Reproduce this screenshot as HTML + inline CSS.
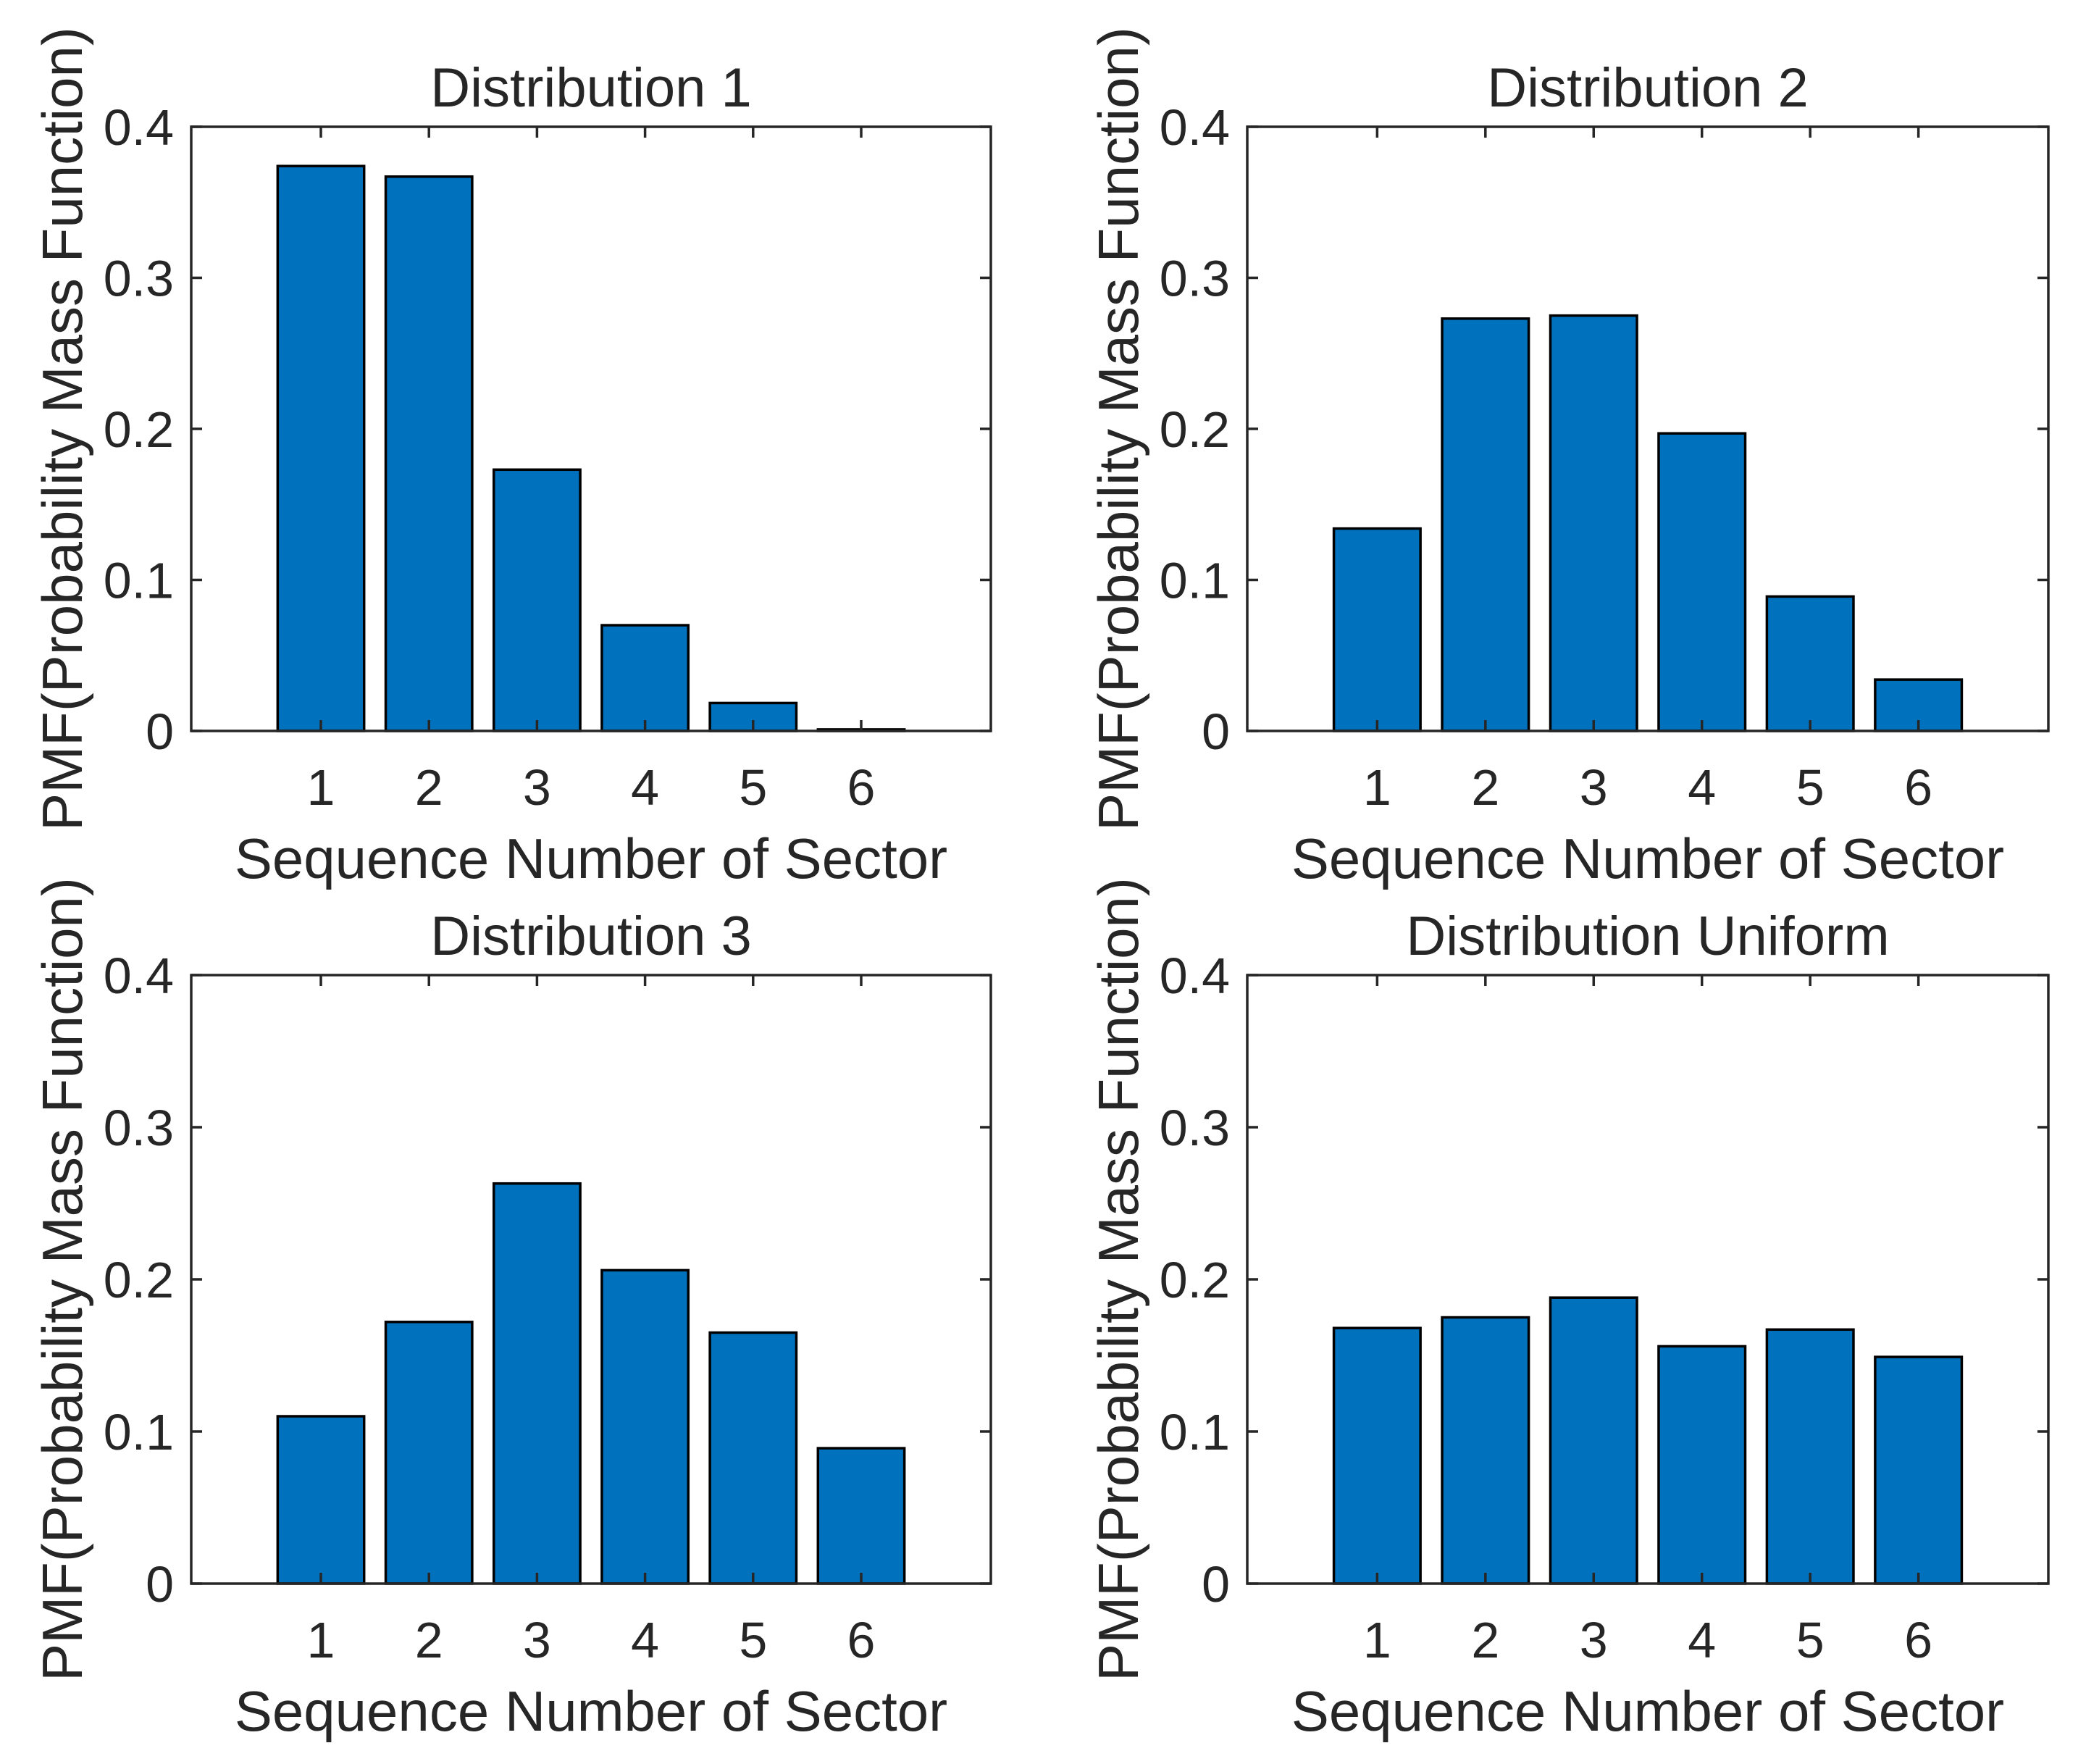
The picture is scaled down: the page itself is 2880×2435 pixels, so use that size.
<!DOCTYPE html>
<html><head><meta charset="utf-8"><style>
html,body{margin:0;padding:0;background:#fff;}
svg{display:block;}
text{font-family:"Liberation Sans",Arial,sans-serif;fill:#262626;}
</style></head>
<body>
<svg id="fig" width="2880" height="2435" viewBox="0 0 2880 2435" xmlns="http://www.w3.org/2000/svg"></svg>
<script>
const categories = [1, 2, 3, 4, 5, 6];
const titles = ["Distribution 1", "Distribution 2", "Distribution 3", "Distribution Uniform"];
const dist1 = [0.374, 0.367, 0.173, 0.070, 0.0185, 0.001];
const dist2 = [0.134, 0.273, 0.275, 0.197, 0.089, 0.034];
const dist3 = [0.110, 0.172, 0.263, 0.206, 0.165, 0.089];
const distUniform = [0.168, 0.175, 0.188, 0.156, 0.167, 0.149];
const yTicks = [0, 0.1, 0.2, 0.3, 0.4];
const yTickLabels = ["0", "0.1", "0.2", "0.3", "0.4"];

const NS = "http://www.w3.org/2000/svg";
const svg = document.getElementById("fig");
function mk(tag, attrs, parent) {
  const e = document.createElementNS(NS, tag);
  for (const k in attrs) e.setAttribute(k, attrs[k]);
  (parent || svg).appendChild(e);
  return e;
}
const panels = [
  {x0: 264, x1: 1368, y0: 175, y1: 1009, data: dist1},
  {x0: 1722, x1: 2828, y0: 175, y1: 1009, data: dist2},
  {x0: 264, x1: 1368, y0: 1346, y1: 2186, data: dist3},
  {x0: 1722, x1: 2828, y0: 1346, y1: 2186, data: distUniform}
];
const xMin = -0.2, xMax = 7.2, yMin = 0, yMax = 0.4, barW = 0.8, tickLen = 15;
panels.forEach((p, i) => {
  const g = mk("g", {});
  
  
  const xs = v => p.x0 + (v - xMin) / (xMax - xMin) * (p.x1 - p.x0);
  const ys = v => p.y1 - (v - yMin) / (yMax - yMin) * (p.y1 - p.y0);
  p.data.forEach((v, j) => {
    const c = categories[j];
    const r = mk("rect", {x: xs(c - barW / 2), y: ys(v), width: xs(c + barW / 2) - xs(c - barW / 2), height: ys(0) - ys(v), fill: "#0072bd", stroke: "#000", "stroke-width": 3.5}, g);
    
    
  });
  const ax = mk("rect", {x: p.x0, y: p.y0, width: p.x1 - p.x0, height: p.y1 - p.y0, fill: "none", stroke: "#262626", "stroke-width": 3.5}, g);
  
  
  yTicks.forEach((t, k) => {
    const y = ys(t);
    mk("line", {x1: p.x0, x2: p.x0 + tickLen, y1: y, y2: y, stroke: "#262626", "stroke-width": 3.5}, g);
    mk("line", {x1: p.x1, x2: p.x1 - tickLen, y1: y, y2: y, stroke: "#262626", "stroke-width": 3.5}, g);
    const tl = mk("text", {x: p.x0 - 24, y: y + 25, "text-anchor": "end", "font-size": 70}, g);
    tl.textContent = yTickLabels[k];
    
    
  });
  categories.forEach(c => {
    const x = xs(c);
    mk("line", {x1: x, x2: x, y1: p.y1, y2: p.y1 - tickLen, stroke: "#262626", "stroke-width": 3.5}, g);
    mk("line", {x1: x, x2: x, y1: p.y0, y2: p.y0 + tickLen, stroke: "#262626", "stroke-width": 3.5}, g);
    const tl = mk("text", {x: x, y: p.y1 + 102, "text-anchor": "middle", "font-size": 70}, g);
    tl.textContent = String(c);
    
    
  });
  const cx = (p.x0 + p.x1) / 2, cy = (p.y0 + p.y1) / 2;
  const title = mk("text", {x: cx, y: p.y0 - 28, "text-anchor": "middle", "font-size": 76, fill: "#000"}, g);
  title.textContent = titles[i];
  
  
  const xl = mk("text", {x: cx, y: p.y1 + 203, "text-anchor": "middle", "font-size": 78}, g);
  xl.textContent = "Sequence Number of Sector";
  
  
  const lx = p.x0 - 151;
  const yl = mk("text", {x: lx, y: cy, "text-anchor": "middle", "font-size": 78, transform: "rotate(-90 " + lx + " " + cy + ")"}, g);
  yl.textContent = "PMF(Probability Mass Function)";
  
  
});
</script>
</body></html>
